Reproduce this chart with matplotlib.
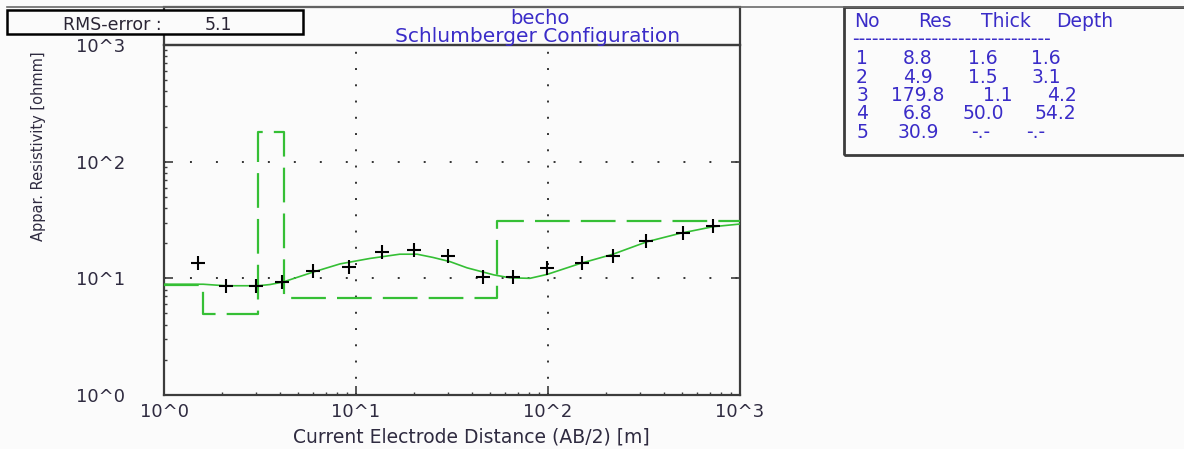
import numpy as np
import matplotlib.pyplot as plt
from matplotlib.patches import Rectangle
from matplotlib.lines import Line2D
from matplotlib.ticker import LogLocator, NullFormatter

# layered earth model (inversion result)
layer_no = [1, 2, 3, 4, 5]
layer_res = [8.8, 4.9, 179.8, 6.8, 30.9]
layer_thick = [1.6, 1.5, 1.1, 50.0, None]
layer_depth = [1.6, 3.1, 4.2, 54.2, None]
rms_error = 5.1

# field data: AB/2 [m] and apparent resistivity [ohmm]
ab2 = [1.5, 2.1, 3.0, 4.1, 6.0, 9.2, 13.7, 20, 30, 46, 66, 99,
       150, 218, 324, 505, 723]
rho_obs = [13.5, 8.6, 8.6, 9.3, 11.6, 12.5, 16.8, 17.5, 15.5, 10.3, 10.3, 12.3,
           13.5, 15.5, 20.9, 24.4, 28.1]

# calculated sounding curve
ab2_calc = [1.0, 1.6, 2.08, 3.09, 3.57, 4.17, 5.97, 8.26, 11.8, 16.9, 20.8, 25.2,
            30.9, 37.9, 52.3, 63.4, 80.5, 98.8, 147, 218, 328, 487, 723, 1000]
rho_calc = [8.9, 8.9, 8.64, 8.64, 8.85, 9.3, 11.3, 13.3, 14.8, 16.1, 16.1, 15.1,
            13.9, 12.3, 10.7, 10.1, 10.0, 10.8, 13.4, 16.1, 20.6, 24.3, 27.7, 29.2]

dec_ticks = [1, 10, 100, 1000]
dec_labels = ['10^0', '10^1', '10^2', '10^3']

plt.rcParams['lines.scale_dashes'] = False

W, H = 1184, 449
BG = '#fbfbfb'
INK = '#3a2cc8'
FRAME = '#3c3c3c'
GREEN = '#35bf35'
LBL = '#2f2b40'


def fx(px):
  return px / W


def fy(py):
  return 1 - py / H


fig = plt.figure(figsize=(W / 100, H / 100), dpi=100, facecolor=BG)
ax = fig.add_axes([fx(164), fy(395), (740 - 164) / W, (395 - 45) / H])
ax.set_facecolor(BG)
ax.set_xscale('log')
ax.set_yscale('log')
ax.set_xlim(1, 1000)
ax.set_ylim(1, 1000)

# dotted grid at the decades
for v in [10, 100]:
  ax.axvline(v, color='#333333', lw=1.4, dashes=(1.4, 10.3), zorder=1)
  ax.axhline(v, color='#333333', lw=1.4, dashes=(1.4, 17.3), zorder=1)

# model as step line: resistivity vs depth
edges = [1.0] + layer_depth[:4] + [1000.0]
mx = np.repeat(edges, 2)[1:-1]
my = np.repeat(layer_res, 2)
ax.plot(mx, my, color=GREEN, lw=1.6, dashes=(25, 8), zorder=3)

ax.plot(ab2_calc, rho_calc, color=GREEN, lw=1.2, zorder=4)
ax.plot(ab2, rho_obs, '+', color='black', ms=9.5, mew=1.5, zorder=5)

ax.set_xticks(dec_ticks, labels=dec_labels)
ax.set_yticks(dec_ticks, labels=dec_labels)
for a in (ax.xaxis, ax.yaxis):
  a.set_minor_locator(LogLocator(base=10, subs=np.arange(2, 10)))
  a.set_minor_formatter(NullFormatter())
ax.tick_params(which='major', direction='in', length=6.5, width=1.2,
               color=FRAME, labelsize=13, labelcolor=LBL)
ax.tick_params(which='minor', direction='in', length=2.5, width=1, color=FRAME)
ax.tick_params(axis='y', which='major', right=True, pad=28)
ax.tick_params(axis='x', which='major', pad=5.5)
for s in ax.spines.values():
  s.set_color(FRAME)
  s.set_linewidth(1.6)

# frame lines and boxes around the plot
fig.add_artist(Line2D([fx(7), 1], [fy(7), fy(7)], color='#6a6a6a', lw=1.2))
fig.add_artist(Rectangle((fx(164), fy(45)), (740 - 164) / W, 38 / H, fill=False,
                         edgecolor=FRAME, lw=1.6, transform=fig.transFigure))
fig.add_artist(Rectangle((fx(7), fy(34)), (303 - 7) / W, 24 / H, facecolor=BG,
                         edgecolor='black', lw=1.8, transform=fig.transFigure,
                         zorder=5))
fig.add_artist(Rectangle((fx(844), fy(155)), (1200 - 844) / W, 148 / H, fill=False,
                         edgecolor=FRAME, lw=2, transform=fig.transFigure))

fig.text(fx(63), fy(30), 'RMS-error :', fontsize=12.5, color='#2a2535',
         va='baseline', ha='left', zorder=6)
fig.text(fx(205), fy(30), f'{rms_error:.1f}', fontsize=12.5, color='#2a2535',
         va='baseline', ha='left', zorder=6)

fig.text(fx(540), fy(24), 'becho', ha='center', va='baseline', fontsize=14, color=INK)
fig.text(fx(538), fy(42), 'Schlumberger Configuration', ha='center', va='baseline',
         fontsize=14.5, color=INK)

fig.text(fx(471), fy(437), 'Current Electrode Distance (AB/2) [m]', ha='center',
         va='center', fontsize=13.5, color=LBL)
fig.text(fx(39), fy(146), 'Appar. Resistivity [ohmm]', rotation=90, ha='center',
         va='center', fontsize=10.5, color=LBL)

# layer table
def fmt(v):
  return '-.-' if v is None else f'{v:.1f}'

ts = 13.5
for name, cx in zip(['No', 'Res', 'Thick', 'Depth'], [867, 935, 1006, 1085]):
  fig.text(fx(cx), fy(27), name, ha='center', va='baseline', fontsize=ts, color=INK)
fig.text(fx(852), fy(45), '-' * 30, ha='left', va='baseline', fontsize=ts, color=INK)

row_y = [64, 83, 101, 119, 138]
thick_x = [983, 983, 998, 983, 981]
depth_x = [1046, 1046, 1062, 1055, 1036]
for i in range(len(layer_no)):
  y = fy(row_y[i])
  fig.text(fx(862), y, str(layer_no[i]), ha='center', va='baseline', fontsize=ts, color=INK)
  fig.text(fx(918), y, fmt(layer_res[i]), ha='center', va='baseline', fontsize=ts, color=INK)
  fig.text(fx(thick_x[i]), y, fmt(layer_thick[i]), ha='center', va='baseline', fontsize=ts, color=INK)
  fig.text(fx(depth_x[i]), y, fmt(layer_depth[i]), ha='center', va='baseline', fontsize=ts, color=INK)

fig.savefig('out.png', dpi=100, facecolor=BG)
